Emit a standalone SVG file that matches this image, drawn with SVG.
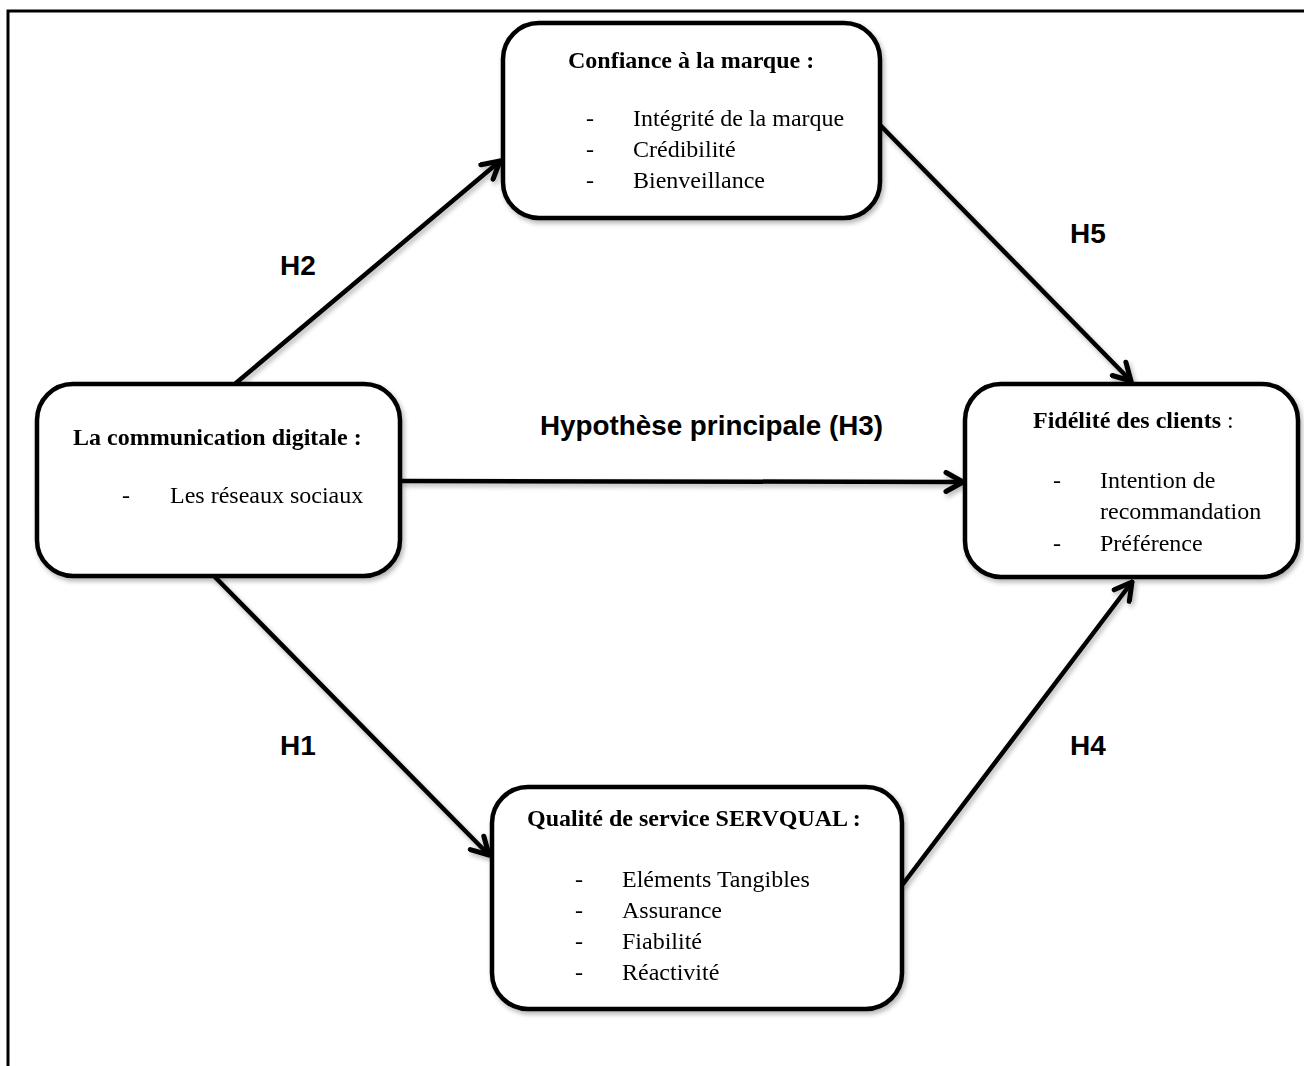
<svg xmlns="http://www.w3.org/2000/svg" width="1304" height="1066" viewBox="0 0 1304 1066">
  <style>
    .box { fill: #ffffff; stroke: #000000; stroke-width: 4.5; }
    .link { fill: none; stroke: #000000; stroke-width: 4.5; stroke-linecap: round; stroke-linejoin: round; }
    .head { font-family: "Liberation Serif", "Times New Roman", serif; font-size: 24px; font-weight: bold; fill: #000; }
    .item { font-family: "Liberation Serif", "Times New Roman", serif; font-size: 24px; fill: #000; }
    .hyp { font-family: "Liberation Sans", Arial, sans-serif; font-size: 28px; font-weight: bold; fill: #000; }
  </style>
  <defs>
    <filter id="soft" x="-10%" y="-10%" width="130%" height="130%">
      <feGaussianBlur in="SourceAlpha" stdDeviation="2.5"/>
      <feOffset dx="2" dy="3" result="b"/>
      <feComponentTransfer><feFuncA type="linear" slope="0.3"/></feComponentTransfer>
      <feMerge><feMergeNode/><feMergeNode in="SourceGraphic"/></feMerge>
    </filter>
    <marker id="chev" viewBox="-20 -12 23 24" markerWidth="23" markerHeight="24" refX="0" refY="0" orient="auto" markerUnits="userSpaceOnUse">
      <path d="M-17,-9.5 L0,0 L-17,9.5" fill="none" stroke="#000" stroke-width="5" stroke-linecap="round" stroke-linejoin="round"/>
    </marker>
  </defs>

  <rect width="1304" height="1066" fill="#ffffff"/>

  <!-- page frame (top and left edges) -->
  <path d="M8,1066 L8,11 L1304,11" fill="none" stroke="#000" stroke-width="3"/>

  <!-- connectors -->
  <g id="connectors" filter="url(#soft)">
    <path class="link" d="M236,383 L500,161" marker-end="url(#chev)"/>
    <path class="link" d="M881,126 L1131,381" marker-end="url(#chev)"/>
    <path class="link" d="M402,481 L963,482" marker-end="url(#chev)"/>
    <path class="link" d="M215,577 L489,855" marker-end="url(#chev)"/>
    <path class="link" d="M903,884 L1132,582" marker-end="url(#chev)"/>
  </g>

  <!-- hypothesis labels -->
  <g id="labels">
    <text class="hyp" x="280" y="275">H2</text>
    <text class="hyp" x="1070" y="243">H5</text>
    <text class="hyp" x="280" y="755">H1</text>
    <text class="hyp" x="1070" y="755">H4</text>
    <text class="hyp" x="540" y="435" textLength="343" lengthAdjust="spacingAndGlyphs">Hypothèse principale (H3)</text>
  </g>

  <!-- brand trust -->
  <g id="node-confiance" filter="url(#soft)">
    <rect class="box" x="503" y="23" width="377" height="195" rx="36" ry="36"/>
    <text class="head" x="568" y="68">Confiance à la marque :</text>
    <text class="item" x="586" y="126">-</text>
    <text class="item" x="633" y="126">Intégrité de la marque</text>
    <text class="item" x="586" y="157">-</text>
    <text class="item" x="633" y="157">Crédibilité</text>
    <text class="item" x="586" y="188">-</text>
    <text class="item" x="633" y="188">Bienveillance</text>
  </g>

  <!-- digital communication -->
  <g id="node-communication" filter="url(#soft)">
    <rect class="box" x="37" y="384" width="363" height="192" rx="36" ry="36"/>
    <text class="head" x="73" y="445">La communication digitale :</text>
    <text class="item" x="122" y="503">-</text>
    <text class="item" x="170" y="503">Les réseaux sociaux</text>
  </g>

  <!-- customer loyalty -->
  <g id="node-fidelite" filter="url(#soft)">
    <rect class="box" x="965" y="384" width="333" height="193" rx="36" ry="36"/>
    <text x="1033" y="428" class="item"><tspan class="head">Fidélité des clients</tspan> :</text>
    <text class="item" x="1053" y="488">-</text>
    <text class="item" x="1100" y="488">Intention de</text>
    <text class="item" x="1100" y="519">recommandation</text>
    <text class="item" x="1053" y="551">-</text>
    <text class="item" x="1100" y="551">Préférence</text>
  </g>

  <!-- service quality -->
  <g id="node-servqual" filter="url(#soft)">
    <rect class="box" x="492" y="787" width="410" height="222" rx="36" ry="36"/>
    <text class="head" x="527" y="826">Qualité de service SERVQUAL :</text>
    <text class="item" x="575" y="887">-</text>
    <text class="item" x="622" y="887">Eléments Tangibles</text>
    <text class="item" x="575" y="918">-</text>
    <text class="item" x="622" y="918">Assurance</text>
    <text class="item" x="575" y="949">-</text>
    <text class="item" x="622" y="949">Fiabilité</text>
    <text class="item" x="575" y="980">-</text>
    <text class="item" x="622" y="980">Réactivité</text>
  </g>
</svg>
